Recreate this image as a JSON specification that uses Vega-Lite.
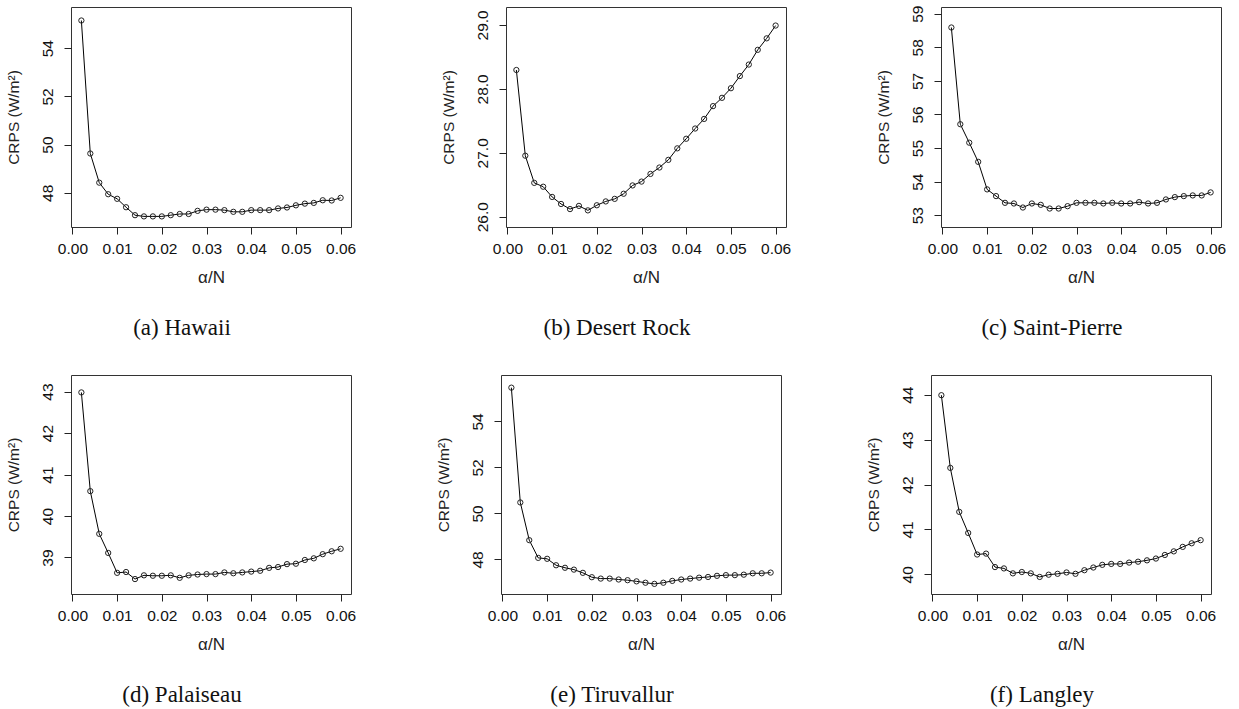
{
  "$schema": "https://vega.github.io/schema/vega-lite/v6.json",
  "padding": {"left": 5, "top": 4, "right": 5, "bottom": 5},
  "background": "white",
  "config": {
    "view": {"stroke": "#333", "strokeWidth": 1},
    "axis": {
      "grid": false, "domain": false,
      "labelFont": "Liberation Sans", "labelFontSize": 15.5, "labelColor": "#111",
      "titleFont": "Liberation Sans", "titleFontSize": 15.5, "titleColor": "#222", "titleFontWeight": "normal",
      "tickColor": "#222", "tickSize": 7, "labelOverlap": false, "labelFlush": false
    },
    "axisX": {"labelPadding": 7, "titlePadding": 13, "titleFontSize": 17},
    "axisY": {"labelAngle": -90, "labelAlign": "center", "labelBaseline": "bottom", "labelPadding": 9, "titlePadding": 19},
    "title": {"font": "Liberation Serif", "fontSize": 23, "fontWeight": "normal", "color": "#111", "orient": "bottom", "anchor": "middle", "dx": -29, "offset": 31},
    "line": {"color": "#000", "strokeWidth": 1},
    "point": {"shape": "circle", "filled": false, "color": "#222", "size": 28, "strokeWidth": 1, "opacity": 1}
  },
  "datasets": {
    "hawaii": [
      {"x":0.002,"crps":55.15},{"x":0.004,"crps":49.63},{"x":0.006,"crps":48.42},{"x":0.008,"crps":47.94},{"x":0.010,"crps":47.75},
      {"x":0.012,"crps":47.40},{"x":0.014,"crps":47.07},{"x":0.016,"crps":47.02},{"x":0.018,"crps":47.02},{"x":0.020,"crps":47.02},
      {"x":0.022,"crps":47.07},{"x":0.024,"crps":47.12},{"x":0.026,"crps":47.12},{"x":0.028,"crps":47.25},{"x":0.030,"crps":47.30},
      {"x":0.032,"crps":47.30},{"x":0.034,"crps":47.28},{"x":0.036,"crps":47.21},{"x":0.038,"crps":47.21},{"x":0.040,"crps":47.28},
      {"x":0.042,"crps":47.28},{"x":0.044,"crps":47.28},{"x":0.046,"crps":47.35},{"x":0.048,"crps":47.39},{"x":0.050,"crps":47.48},
      {"x":0.052,"crps":47.55},{"x":0.054,"crps":47.58},{"x":0.056,"crps":47.69},{"x":0.058,"crps":47.68},{"x":0.060,"crps":47.79}
    ],
    "desertrock": [
      {"x":0.002,"crps":28.295},{"x":0.004,"crps":26.955},{"x":0.006,"crps":26.53},{"x":0.008,"crps":26.47},{"x":0.010,"crps":26.31},
      {"x":0.012,"crps":26.20},{"x":0.014,"crps":26.12},{"x":0.016,"crps":26.17},{"x":0.018,"crps":26.10},{"x":0.020,"crps":26.18},
      {"x":0.022,"crps":26.24},{"x":0.024,"crps":26.28},{"x":0.026,"crps":26.36},{"x":0.028,"crps":26.49},{"x":0.030,"crps":26.55},
      {"x":0.032,"crps":26.67},{"x":0.034,"crps":26.77},{"x":0.036,"crps":26.89},{"x":0.038,"crps":27.07},{"x":0.040,"crps":27.22},
      {"x":0.042,"crps":27.38},{"x":0.044,"crps":27.53},{"x":0.046,"crps":27.73},{"x":0.048,"crps":27.86},{"x":0.050,"crps":28.01},
      {"x":0.052,"crps":28.20},{"x":0.054,"crps":28.38},{"x":0.056,"crps":28.61},{"x":0.058,"crps":28.79},{"x":0.060,"crps":28.99}
    ],
    "saintpierre": [
      {"x":0.002,"crps":58.59},{"x":0.004,"crps":55.71},{"x":0.006,"crps":55.16},{"x":0.008,"crps":54.59},{"x":0.010,"crps":53.77},
      {"x":0.012,"crps":53.57},{"x":0.014,"crps":53.37},{"x":0.016,"crps":53.35},{"x":0.018,"crps":53.23},{"x":0.020,"crps":53.35},
      {"x":0.022,"crps":53.31},{"x":0.024,"crps":53.20},{"x":0.026,"crps":53.20},{"x":0.028,"crps":53.27},{"x":0.030,"crps":53.37},
      {"x":0.032,"crps":53.37},{"x":0.034,"crps":53.37},{"x":0.036,"crps":53.35},{"x":0.038,"crps":53.37},{"x":0.040,"crps":53.35},
      {"x":0.042,"crps":53.35},{"x":0.044,"crps":53.39},{"x":0.046,"crps":53.35},{"x":0.048,"crps":53.37},{"x":0.050,"crps":53.47},
      {"x":0.052,"crps":53.54},{"x":0.054,"crps":53.57},{"x":0.056,"crps":53.59},{"x":0.058,"crps":53.59},{"x":0.060,"crps":53.68}
    ],
    "palaiseau": [
      {"x":0.002,"crps":42.98},{"x":0.004,"crps":40.60},{"x":0.006,"crps":39.57},{"x":0.008,"crps":39.11},{"x":0.010,"crps":38.63},
      {"x":0.012,"crps":38.65},{"x":0.014,"crps":38.48},{"x":0.016,"crps":38.57},{"x":0.018,"crps":38.56},{"x":0.020,"crps":38.56},
      {"x":0.022,"crps":38.57},{"x":0.024,"crps":38.51},{"x":0.026,"crps":38.57},{"x":0.028,"crps":38.59},{"x":0.030,"crps":38.60},
      {"x":0.032,"crps":38.60},{"x":0.034,"crps":38.64},{"x":0.036,"crps":38.62},{"x":0.038,"crps":38.64},{"x":0.040,"crps":38.66},
      {"x":0.042,"crps":38.68},{"x":0.044,"crps":38.75},{"x":0.046,"crps":38.77},{"x":0.048,"crps":38.84},{"x":0.050,"crps":38.85},
      {"x":0.052,"crps":38.94},{"x":0.054,"crps":38.98},{"x":0.056,"crps":39.08},{"x":0.058,"crps":39.15},{"x":0.060,"crps":39.21}
    ],
    "tiruvallur": [
      {"x":0.002,"crps":55.47},{"x":0.004,"crps":50.48},{"x":0.006,"crps":48.84},{"x":0.008,"crps":48.07},{"x":0.010,"crps":48.03},
      {"x":0.012,"crps":47.75},{"x":0.014,"crps":47.64},{"x":0.016,"crps":47.56},{"x":0.018,"crps":47.42},{"x":0.020,"crps":47.23},
      {"x":0.022,"crps":47.17},{"x":0.024,"crps":47.17},{"x":0.026,"crps":47.13},{"x":0.028,"crps":47.10},{"x":0.030,"crps":47.05},
      {"x":0.032,"crps":46.99},{"x":0.034,"crps":46.94},{"x":0.036,"crps":46.99},{"x":0.038,"crps":47.07},{"x":0.040,"crps":47.13},
      {"x":0.042,"crps":47.17},{"x":0.044,"crps":47.21},{"x":0.046,"crps":47.24},{"x":0.048,"crps":47.29},{"x":0.050,"crps":47.32},
      {"x":0.052,"crps":47.32},{"x":0.054,"crps":47.34},{"x":0.056,"crps":47.40},{"x":0.058,"crps":47.40},{"x":0.060,"crps":47.43}
    ],
    "langley": [
      {"x":0.002,"crps":43.99},{"x":0.004,"crps":42.37},{"x":0.006,"crps":41.39},{"x":0.008,"crps":40.92},{"x":0.010,"crps":40.44},
      {"x":0.012,"crps":40.46},{"x":0.014,"crps":40.16},{"x":0.016,"crps":40.13},{"x":0.018,"crps":40.02},{"x":0.020,"crps":40.05},
      {"x":0.022,"crps":40.02},{"x":0.024,"crps":39.94},{"x":0.026,"crps":39.99},{"x":0.028,"crps":40.01},{"x":0.030,"crps":40.04},
      {"x":0.032,"crps":40.01},{"x":0.034,"crps":40.09},{"x":0.036,"crps":40.15},{"x":0.038,"crps":40.21},{"x":0.040,"crps":40.23},
      {"x":0.042,"crps":40.23},{"x":0.044,"crps":40.26},{"x":0.046,"crps":40.28},{"x":0.048,"crps":40.31},{"x":0.050,"crps":40.35},
      {"x":0.052,"crps":40.43},{"x":0.054,"crps":40.51},{"x":0.056,"crps":40.61},{"x":0.058,"crps":40.69},{"x":0.060,"crps":40.76}
    ]
  },
  "bounds": "flush",
  "spacing": 368,
  "vconcat": [
    {
      "bounds": "flush",
      "spacing": 155,
      "hconcat": [
        {
          "width": 280, "height": 220,
          "data": {"name": "hawaii"},
          "title": "(a) Hawaii",
          "encoding": {
            "x": {"field": "x", "type": "quantitative", "title": "α/N", "scale": {"domain": [-0.00032, 0.06232], "nice": false, "zero": false}, "axis": {"values": [0, 0.01, 0.02, 0.03, 0.04, 0.05, 0.06], "format": ".2f"}},
            "y": {"field": "crps", "type": "quantitative", "title": "CRPS (W/m²)", "scale": {"domain": [46.58, 55.71], "nice": false, "zero": false}, "axis": {"values": [48, 50, 52, 54], "format": "d"}}
          },
          "layer": [{"mark": "line"}, {"mark": "point"}]
        },
        {
          "width": 280, "height": 220,
          "data": {"name": "desertrock"},
          "title": "(b) Desert Rock",
          "encoding": {
            "x": {"field": "x", "type": "quantitative", "title": "α/N", "scale": {"domain": [-0.00032, 0.06232], "nice": false, "zero": false}, "axis": {"values": [0, 0.01, 0.02, 0.03, 0.04, 0.05, 0.06], "format": ".2f"}},
            "y": {"field": "crps", "type": "quantitative", "title": "CRPS (W/m²)", "scale": {"domain": [25.84, 29.28], "nice": false, "zero": false}, "axis": {"values": [26, 27, 28, 29], "format": ".1f"}}
          },
          "layer": [{"mark": "line"}, {"mark": "point"}]
        },
        {
          "width": 280, "height": 220,
          "data": {"name": "saintpierre"},
          "title": "(c) Saint-Pierre",
          "encoding": {
            "x": {"field": "x", "type": "quantitative", "title": "α/N", "scale": {"domain": [-0.00032, 0.06232], "nice": false, "zero": false}, "axis": {"values": [0, 0.01, 0.02, 0.03, 0.04, 0.05, 0.06], "format": ".2f"}},
            "y": {"field": "crps", "type": "quantitative", "title": "CRPS (W/m²)", "scale": {"domain": [52.65, 59.2], "nice": false, "zero": false}, "axis": {"values": [53, 54, 55, 56, 57, 58, 59], "format": "d"}}
          },
          "layer": [{"mark": "line"}, {"mark": "point"}]
        }
      ]
    },
    {
      "bounds": "flush",
      "spacing": 150,
      "hconcat": [
        {
          "width": 280, "height": 219,
          "data": {"name": "palaiseau"},
          "title": "(d) Palaiseau",
          "encoding": {
            "x": {"field": "x", "type": "quantitative", "title": "α/N", "scale": {"domain": [-0.00032, 0.06232], "nice": false, "zero": false}, "axis": {"values": [0, 0.01, 0.02, 0.03, 0.04, 0.05, 0.06], "format": ".2f"}},
            "y": {"field": "crps", "type": "quantitative", "title": "CRPS (W/m²)", "scale": {"domain": [38.12, 43.4], "nice": false, "zero": false}, "axis": {"values": [39, 40, 41, 42, 43], "format": "d"}}
          },
          "layer": [{"mark": "line"}, {"mark": "point"}]
        },
        {
          "width": 280, "height": 219,
          "data": {"name": "tiruvallur"},
          "title": "(e) Tiruvallur",
          "encoding": {
            "x": {"field": "x", "type": "quantitative", "title": "α/N", "scale": {"domain": [-0.00032, 0.06232], "nice": false, "zero": false}, "axis": {"values": [0, 0.01, 0.02, 0.03, 0.04, 0.05, 0.06], "format": ".2f"}},
            "y": {"field": "crps", "type": "quantitative", "title": "CRPS (W/m²)", "scale": {"domain": [46.5, 56.02], "nice": false, "zero": false}, "axis": {"values": [48, 50, 52, 54], "format": "d"}}
          },
          "layer": [{"mark": "line"}, {"mark": "point"}]
        },
        {
          "width": 280, "height": 219,
          "data": {"name": "langley"},
          "title": "(f) Langley",
          "encoding": {
            "x": {"field": "x", "type": "quantitative", "title": "α/N", "scale": {"domain": [-0.00032, 0.06232], "nice": false, "zero": false}, "axis": {"values": [0, 0.01, 0.02, 0.03, 0.04, 0.05, 0.06], "format": ".2f"}},
            "y": {"field": "crps", "type": "quantitative", "title": "CRPS (W/m²)", "scale": {"domain": [39.56, 44.44], "nice": false, "zero": false}, "axis": {"values": [40, 41, 42, 43, 44], "format": "d"}}
          },
          "layer": [{"mark": "line"}, {"mark": "point"}]
        }
      ]
    }
  ]
}
